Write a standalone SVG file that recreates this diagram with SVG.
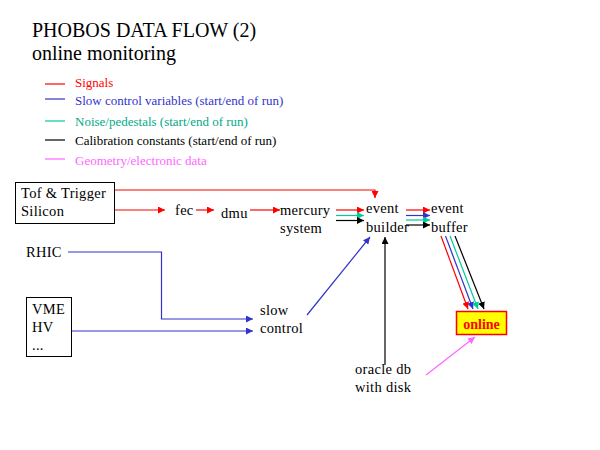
<svg xmlns="http://www.w3.org/2000/svg" width="600" height="450" viewBox="0 0 600 450">
<style>
text{font-family:"Liberation Serif","Times New Roman",serif;fill:#000}
.t{font-size:20px}
.lg{font-size:13px}
.n{font-size:14.5px;letter-spacing:0.3px}
.red{stroke:#ff0000}
.blue{stroke:#3333cc}
.green{stroke:#00cc99}
.blk{stroke:#000}
.pink{stroke:#ff66ff}
line,polyline{fill:none;stroke-width:1.2}
</style>
<defs>
<marker id="ar" viewBox="0 0 8 8" refX="8" refY="4" markerWidth="7" markerHeight="7" markerUnits="userSpaceOnUse" orient="auto"><path d="M0,0L8,4L0,8z" fill="#ff0000"/></marker>
<marker id="ab" viewBox="0 0 8 8" refX="8" refY="4" markerWidth="7" markerHeight="7" markerUnits="userSpaceOnUse" orient="auto"><path d="M0,0L8,4L0,8z" fill="#3333cc"/></marker>
<marker id="ag" viewBox="0 0 8 8" refX="8" refY="4" markerWidth="7" markerHeight="7" markerUnits="userSpaceOnUse" orient="auto"><path d="M0,0L8,4L0,8z" fill="#00cc99"/></marker>
<marker id="ak" viewBox="0 0 8 8" refX="8" refY="4" markerWidth="7" markerHeight="7" markerUnits="userSpaceOnUse" orient="auto"><path d="M0,0L8,4L0,8z" fill="#000"/></marker>
<marker id="ap" viewBox="0 0 8 8" refX="8" refY="4" markerWidth="7" markerHeight="7" markerUnits="userSpaceOnUse" orient="auto"><path d="M0,0L8,4L0,8z" fill="#ff66ff"/></marker>
</defs>
<g id="title">
<text class="t" x="32" y="37">PHOBOS DATA FLOW (2)</text>
<text class="t" x="32" y="60">online monitoring</text>
</g>
<g id="legend">
<line class="red" x1="45" y1="84" x2="65" y2="84"/>
<text class="lg" x="75" y="87" style="fill:#ff0000">Signals</text>
<line class="blue" x1="45" y1="99" x2="65" y2="99"/>
<text class="lg" x="75" y="105" style="fill:#3333cc">Slow control variables (start/end of run)</text>
<line class="green" x1="45" y1="121" x2="65" y2="121"/>
<text class="lg" x="75" y="126" style="fill:#00aa88">Noise/pedestals (start/end of run)</text>
<line class="blk" x1="45" y1="140" x2="65" y2="140"/>
<text class="lg" x="75" y="145">Calibration constants (start/end of run)</text>
<line class="pink" x1="45" y1="159" x2="65" y2="159"/>
<text class="lg" x="75" y="165" style="fill:#ff66ff">Geometry/electronic data</text>
</g>
<g id="tof">
<rect x="15.5" y="182.5" width="99" height="41" fill="#fff" stroke="#000"/>
<text class="n" x="21" y="198">Tof &amp; Trigger</text>
<text class="n" x="21" y="216">Silicon</text>
</g>
<g id="fec"><text class="n" x="175" y="215">fec</text></g>
<g id="dmu"><text class="n" x="221" y="218">dmu</text></g>
<g id="mercury">
<text class="n" x="280" y="215">mercury</text>
<text class="n" x="280" y="233">system</text>
</g>
<g id="eventbuilder">
<text class="n" x="366" y="213">event</text>
<text class="n" x="366" y="232">builder</text>
</g>
<g id="eventbuffer">
<text class="n" x="431" y="213">event</text>
<text class="n" x="431" y="232">buffer</text>
</g>
<g id="rhic"><text class="n" x="26" y="257">RHIC</text></g>
<g id="vme">
<rect x="26.5" y="297.5" width="45" height="59" fill="#fff" stroke="#000"/>
<text class="n" x="32" y="314">VME</text>
<text class="n" x="32" y="332">HV</text>
<text class="n" x="32" y="350">...</text>
</g>
<g id="slowcontrol">
<text class="n" x="260" y="315">slow</text>
<text class="n" x="260" y="333">control</text>
</g>
<g id="oracle">
<text class="n" x="355" y="374">oracle db</text>
<text class="n" x="355" y="392">with disk</text>
</g>
<g id="online">
<rect x="456.5" y="311.5" width="50" height="23" fill="#ffff00" stroke="#ff0000" stroke-width="1.5"/>
<text x="481.5" y="329" text-anchor="middle" style="font-size:14px;font-weight:bold;fill:#ff0000">online</text>
</g>
<g id="connectors">
<polyline class="red" points="115,190 375,190 375,198" marker-end="url(#ar)"/>
<line class="red" x1="115" y1="210" x2="165" y2="210" marker-end="url(#ar)"/>
<line class="red" x1="196" y1="210" x2="214" y2="210" marker-end="url(#ar)"/>
<line class="red" x1="250" y1="210" x2="280" y2="210" marker-end="url(#ar)"/>
<line class="red" x1="336" y1="210" x2="364" y2="210" marker-end="url(#ar)"/>
<line class="green" x1="336" y1="215.5" x2="364" y2="215.5" marker-end="url(#ag)"/>
<line class="blk" x1="336" y1="220.5" x2="364" y2="220.5" marker-end="url(#ak)"/>
<line class="red" x1="406" y1="210" x2="430" y2="210" marker-end="url(#ar)"/>
<line class="blue" x1="406" y1="215.5" x2="430" y2="215.5" marker-end="url(#ab)"/>
<line class="green" x1="406" y1="220" x2="430" y2="220" marker-end="url(#ag)"/>
<line class="blk" x1="406" y1="225" x2="430" y2="225" marker-end="url(#ak)"/>
<line class="red" x1="441" y1="236" x2="468" y2="309" marker-end="url(#ar)"/>
<line class="blue" x1="445.5" y1="236" x2="473" y2="309" marker-end="url(#ab)"/>
<line class="green" x1="450" y1="236" x2="478" y2="309" marker-end="url(#ag)"/>
<line class="blk" x1="455" y1="236" x2="484" y2="309" marker-end="url(#ak)"/>
<polyline class="blue" points="68,252 161.5,252 161.5,319 253,319" marker-end="url(#ab)"/>
<line class="blue" x1="72" y1="331" x2="253" y2="331" marker-end="url(#ab)"/>
<line class="blue" x1="307" y1="315" x2="370" y2="237" marker-end="url(#ab)"/>
<line class="blk" x1="385" y1="365" x2="385" y2="237" marker-end="url(#ak)"/>
<line class="pink" x1="426" y1="375" x2="475" y2="337" marker-end="url(#ap)"/>
</g>
</svg>
